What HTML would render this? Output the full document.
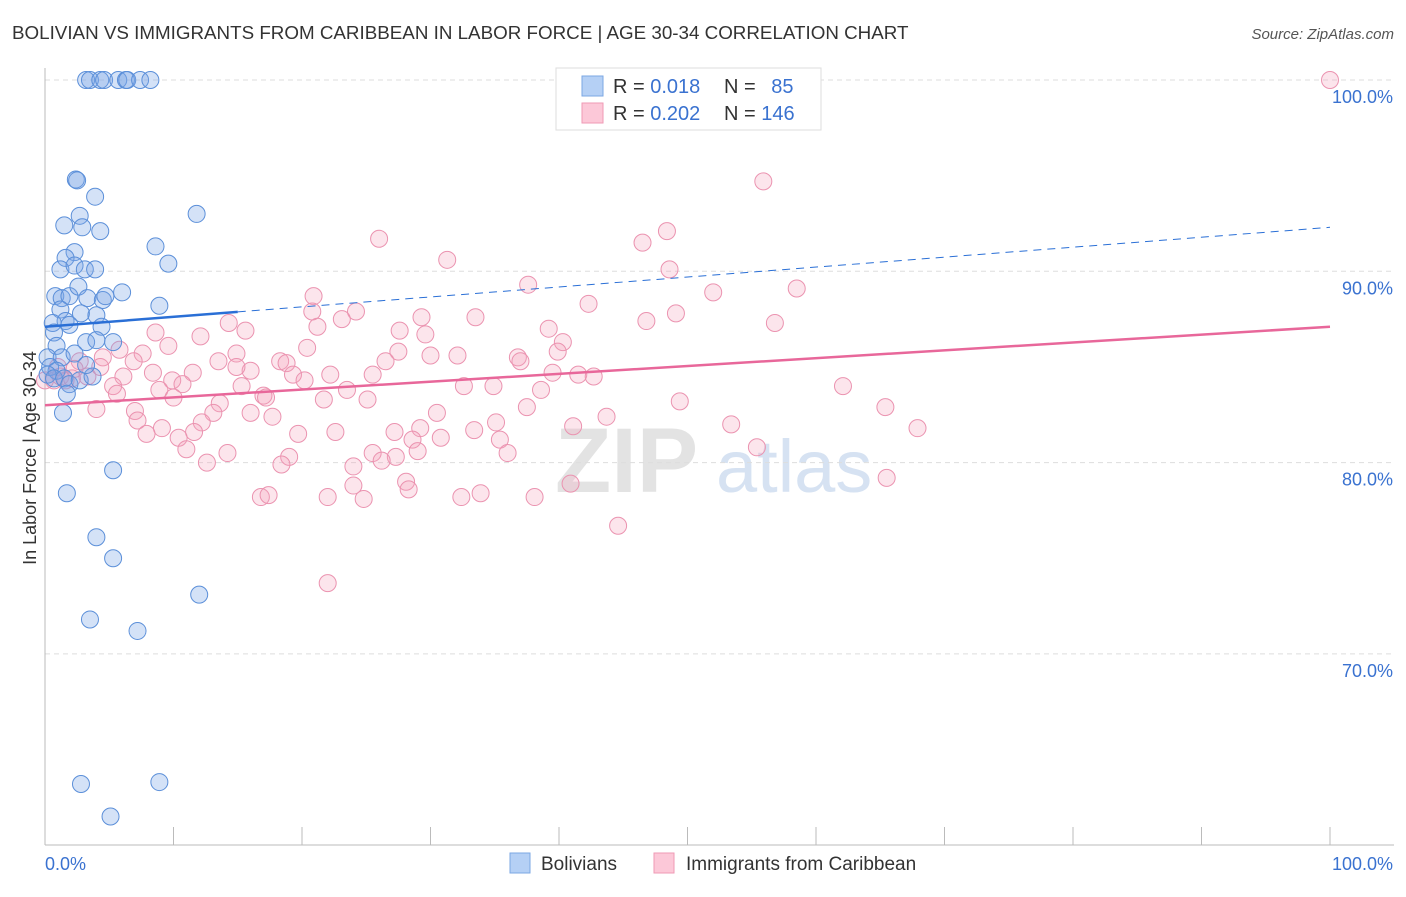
<!DOCTYPE html>
<html><head><meta charset="utf-8"><style>
body{margin:0;background:#fff;font-family:"Liberation Sans",sans-serif}
svg text{font-family:"Liberation Sans",sans-serif}
</style></head><body>
<svg width="1406" height="892" xmlns="http://www.w3.org/2000/svg">
<text x="12" y="39" font-size="18.8" fill="#333">BOLIVIAN VS IMMIGRANTS FROM CARIBBEAN IN LABOR FORCE | AGE 30-34 CORRELATION CHART</text>
<text x="1394" y="39" font-size="15" fill="#555" font-style="italic" text-anchor="end">Source: ZipAtlas.com</text>
<g>
<text x="555" y="492" font-size="92" fill="#e3e3e3" font-family="Liberation Serif" font-weight="bold">ZIP</text>
<text x="716" y="492" font-size="74" fill="#d6e2f2">atlas</text>
</g>
<g id="grid"></g>
<g id="axes"></g>
<g id="pts"></g>
<g id="lines"></g>
<text x="36" y="458" font-size="18" fill="#333" transform="rotate(-90 36 458)" text-anchor="middle">In Labor Force | Age 30-34</text>
<g>
<rect x="556" y="68" width="265" height="62" fill="#fff" stroke="#ddd"/>
<rect x="582" y="76" width="21" height="20" fill="#b5d0f5" stroke="#7ba7e3"/>
<rect x="582" y="103" width="21" height="20" fill="#fcc8d8" stroke="#ef9ab5"/>
<text x="613" y="93" font-size="20" fill="#333">R = <tspan fill="#3a72d0">0.018</tspan></text>
<text x="724" y="93" font-size="20" fill="#333">N = <tspan fill="#3a72d0" dx="10">85</tspan></text>
<text x="613" y="120" font-size="20" fill="#333">R = <tspan fill="#3a72d0">0.202</tspan></text>
<text x="724" y="120" font-size="20" fill="#333">N = <tspan fill="#3a72d0">146</tspan></text>
</g>
<g>
<rect x="510" y="853" width="20" height="20" fill="#b5d0f5" stroke="#7ba7e3"/>
<text x="541" y="870" font-size="19" fill="#333">Bolivians</text>
<rect x="654" y="853" width="20" height="20" fill="#fcc8d8" stroke="#ef9ab5"/>
<text x="686" y="870" font-size="19" fill="#333">Immigrants from Caribbean</text>
</g>
</svg>
<script>
const yTicks=[100,90,80,70];
const yTickLabels=["100.0%","90.0%","80.0%","70.0%"];
const xTickLabels=["0.0%","100.0%"];
const blueX=[3.2,3.5,4.3,4.6,5.7,6.3,6.4,7.4,8.2,2.4,2.5,3.9,11.8,2.7,1.5,2.9,4.3,8.6,2.3,9.6,1.6,1.2,2.3,3.1,3.9,0.8,1.3,1.9,2.6,3.3,4.5,4.7,6.0,8.9,1.2,1.6,0.6,2.8,4.0,4.4,0.7,1.9,3.2,4.0,5.3,0.9,0.2,1.3,2.3,0.4,0.9,0.2,0.7,1.5,1.9,2.7,3.7,3.2,1.7,1.4,5.3,1.7,4.0,5.3,12.0,3.5,7.2,2.8,8.9,5.1];
const blueY=[100,100,100,100,100,100,100,100,100,94.8,94.75,93.9,93.0,92.9,92.4,92.3,92.1,91.3,91.0,90.4,90.7,90.1,90.3,90.1,90.1,88.7,88.6,88.7,89.2,88.6,88.5,88.7,88.9,88.2,88.0,87.4,87.3,87.8,87.7,87.1,86.8,87.2,86.3,86.4,86.3,86.1,85.5,85.5,85.7,85.0,84.8,84.6,84.4,84.4,84.1,84.3,84.5,85.1,83.6,82.6,79.6,78.4,76.1,75.0,73.1,71.8,71.2,63.2,63.3,61.5];
const pinkX=[100,55.9,48.4,46.5,26.0,31.3,48.6,37.6,58.5,52.0,42.3,20.9,20.8,24.2,33.5,29.3,49.1,46.8,56.8,14.3,15.6,21.2,23.1,27.6,29.6,39.2,40.3,8.6,12.1,9.6,5.8,7.6,14.9,20.4,27.5,30.0,32.1,36.8,37.0,39.9,26.5,18.3,18.8,13.5,6.9,4.5,2.7,8.4,11.5,16.0,14.9,19.3,20.2,22.2,25.5,39.5,41.5,42.7,6.1,3.3,9.9,5.3,10.7,15.3,32.6,34.9,38.6,62.1,23.5,5.6,8.9,10.0,17.0,17.2,21.7,25.1,49.4,4.0,13.6,7.0,13.1,16.0,17.7,30.5,37.5,43.7,65.4,7.2,12.2,41.1,53.4,67.9,22.6,27.2,29.2,35.1,33.4,9.1,7.9,10.4,11.6,19.7,30.8,35.4,28.6,11.0,14.2,25.5,27.3,29.0,36.0,55.4,19.0,12.6,18.4,24.0,26.2,28.1,65.5,40.9,24.0,28.3,16.8,17.4,22.0,24.8,32.4,33.9,38.1,44.6,22.0,0.7,1.2,1.6,2.1,1.0,4.3,2.3,0];
const pinkY=[100,94.7,92.1,91.5,91.7,90.6,90.1,89.3,89.1,88.9,88.3,88.7,87.9,87.9,87.6,87.6,87.8,87.4,87.3,87.3,86.9,87.1,87.5,86.9,86.7,87.0,86.3,86.8,86.6,86.1,85.9,85.7,85.7,86.0,85.8,85.6,85.6,85.5,85.3,85.8,85.3,85.3,85.2,85.3,85.3,85.5,85.3,84.7,84.7,84.8,85.0,84.6,84.3,84.6,84.6,84.7,84.6,84.5,84.5,84.5,84.3,84.0,84.1,84.0,84.0,84.0,83.8,84.0,83.8,83.6,83.8,83.4,83.5,83.4,83.3,83.3,83.2,82.8,83.1,82.7,82.6,82.6,82.4,82.6,82.9,82.4,82.9,82.2,82.1,81.9,82.0,81.8,81.6,81.6,81.8,82.1,81.7,81.8,81.5,81.3,81.6,81.5,81.3,81.2,81.2,80.7,80.5,80.5,80.3,80.6,80.5,80.8,80.3,80.0,79.9,79.8,80.1,79.0,79.2,78.9,78.8,78.6,78.2,78.3,78.2,78.1,78.2,78.4,78.2,76.7,73.7,84.3,84.5,84.3,84.4,85.0,85.0,84.9,84.3];
const blueTrend=[87.1,92.3];
const blueSolidEnd=15;
const pinkTrend=[83.0,87.1];
const NS="http://www.w3.org/2000/svg";
const X0=45,X1=1330,Y100=80,PX10=191.3;
const sx=v=>X0+(X1-X0)*v/100;
const sy=v=>Y100+(100-v)*PX10/10;
function mk(tag,attrs,parent){const e=document.createElementNS(NS,tag);for(const k in attrs)e.setAttribute(k,attrs[k]);parent.appendChild(e);return e;}
const grid=document.getElementById('grid'),axes=document.getElementById('axes');
yTicks.forEach((t,i)=>{
 const l=mk('line',{x1:X0,x2:1394,y1:sy(t),y2:sy(t),stroke:'#ddd','stroke-dasharray':'5,4'},grid);
 
 
 const tx=mk('text',{x:1393,y:sy(t)+23,'font-size':18,fill:'#3a72d0','text-anchor':'end'},axes);
 tx.textContent=yTickLabels[i];
 
 
});
const ya=mk('line',{x1:X0,x2:X0,y1:68,y2:845,stroke:'#bbb'},axes);


const xa=mk('line',{x1:X0,x2:1394,y1:845,y2:845,stroke:'#bbb'},axes);


for(let i=0;i<=10;i++){
 const t=mk('line',{x1:sx(i*10),x2:sx(i*10),y1:827,y2:845,stroke:'#bbb'},axes);
 
 
}
const xl0=mk('text',{x:45,y:870,'font-size':18,fill:'#3a72d0'},axes);
xl0.textContent=xTickLabels[0];


const xl1=mk('text',{x:1393,y:870,'font-size':18,fill:'#3a72d0','text-anchor':'end'},axes);
xl1.textContent=xTickLabels[1];


const pts=document.getElementById('pts');
pinkX.forEach((v,i)=>{
 const c=mk('circle',{cx:sx(v),cy:sy(pinkY[i]),r:8.5,fill:'rgba(244,160,188,0.28)',stroke:'#eb93b0','stroke-width':1},pts);
 
 
});
blueX.forEach((v,i)=>{
 const c=mk('circle',{cx:sx(v),cy:sy(blueY[i]),r:8.5,fill:'rgba(120,165,230,0.32)',stroke:'#5b8fd9','stroke-width':1},pts);
 
 
});
const lines=document.getElementById('lines');
const by=x=>blueTrend[0]+(blueTrend[1]-blueTrend[0])*x/100;
const b1=mk('line',{x1:sx(0),y1:sy(by(0)),x2:sx(blueSolidEnd),y2:sy(by(blueSolidEnd)),stroke:'#2a6fd6','stroke-width':2.5},lines);


const b2=mk('line',{x1:sx(blueSolidEnd),y1:sy(by(blueSolidEnd)),x2:sx(100),y2:sy(by(100)),stroke:'#2a6fd6','stroke-width':1,'stroke-dasharray':'8,6'},lines);


const p1=mk('line',{x1:sx(0),y1:sy(pinkTrend[0]),x2:sx(100),y2:sy(pinkTrend[1]),stroke:'#e8679a','stroke-width':2.5},lines);


</script>
</body></html>
